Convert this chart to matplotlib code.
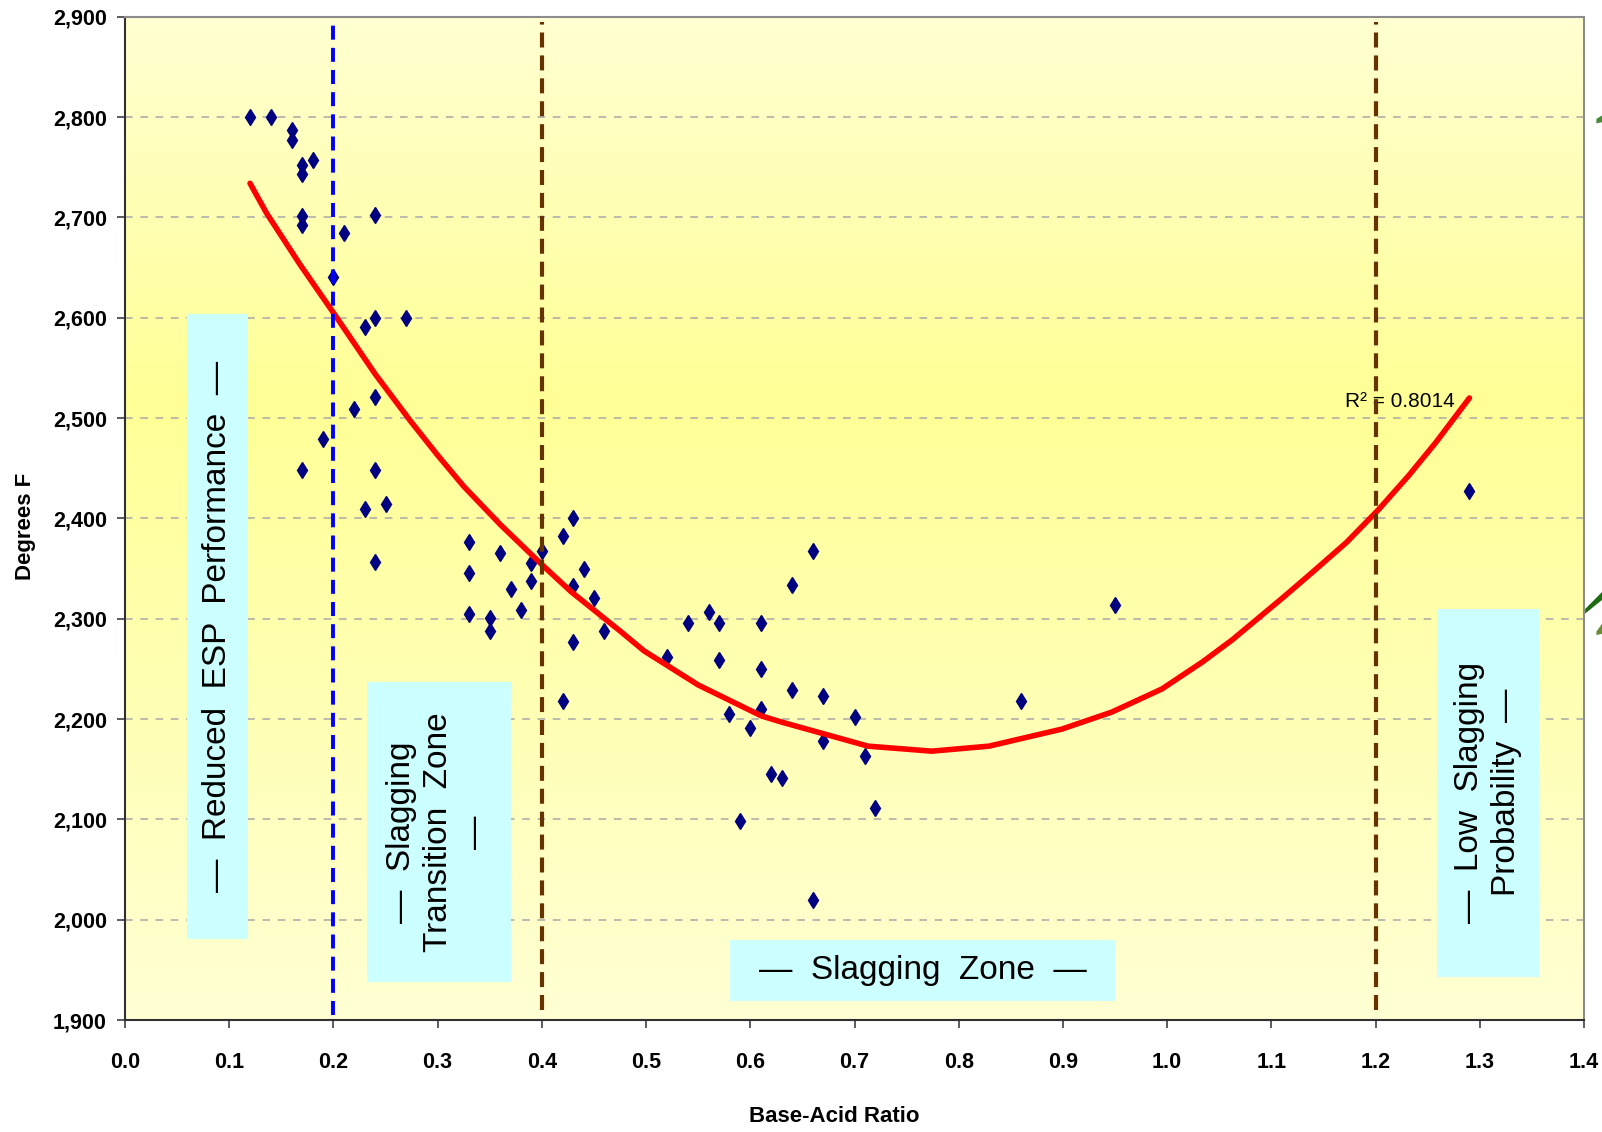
import numpy as np
import matplotlib
matplotlib.use("Agg")
import matplotlib.pyplot as plt
from matplotlib.patches import Rectangle, Polygon
from matplotlib.ticker import FuncFormatter, MultipleLocator

# scatter data (base-acid ratio vs ash fusion temperature)
ratio = [0.12, 0.14, 0.16, 0.16, 0.17, 0.17, 0.18, 0.17, 0.17, 0.24, 0.21, 0.20,
         0.23, 0.24, 0.27, 0.24, 0.22, 0.19, 0.17, 0.24, 0.23, 0.25, 0.24,
         0.33, 0.33, 0.33, 0.36, 0.35, 0.35, 0.37, 0.38, 0.39, 0.39, 0.40,
         0.42, 0.43, 0.44, 0.43, 0.45, 0.46, 0.43, 0.42,
         0.52, 0.54, 0.56, 0.57, 0.57, 0.61, 0.61, 0.61, 0.58, 0.60, 0.62,
         0.63, 0.59, 0.64, 0.66, 0.64, 0.67, 0.67, 0.70, 0.71, 0.72, 0.66,
         0.86, 0.95, 1.29]
temp_f = [2800, 2800, 2787, 2777, 2752, 2743, 2757, 2701, 2692, 2702, 2684, 2641,
          2591, 2600, 2600, 2521, 2509, 2479, 2448, 2448, 2409, 2414, 2357,
          2376, 2346, 2305, 2366, 2301, 2288, 2330, 2309, 2356, 2338, 2368,
          2382, 2400, 2350, 2333, 2321, 2288, 2277, 2218,
          2262, 2296, 2307, 2296, 2259, 2296, 2250, 2210, 2205, 2191, 2145,
          2141, 2098, 2334, 2368, 2229, 2223, 2178, 2202, 2163, 2111, 2020,
          2218, 2314, 2427]

# trendline as drawn in the chart
trend_x = [0.12, 0.136, 0.168, 0.20, 0.24, 0.274, 0.30, 0.325, 0.36, 0.40, 0.428,
           0.476, 0.498, 0.55, 0.611, 0.63, 0.713, 0.774, 0.829, 0.899, 0.947,
           0.995, 1.034, 1.0625, 1.111, 1.139, 1.172, 1.203, 1.232, 1.258, 1.29]
trend_y = [2734, 2704, 2653, 2605, 2544, 2497, 2463, 2432, 2394, 2354, 2327,
           2287, 2268, 2234, 2203, 2197, 2173, 2168, 2173, 2190, 2207,
           2230, 2257, 2279, 2321, 2346, 2376, 2409, 2443, 2476, 2520]
r_squared = 0.8014

# zone boundaries
esp_limit = 0.2
zone_limits = [0.4, 1.2]

zone_labels = ["\u2014  Reduced  ESP  Performance  \u2014",
               "\u2014  Slagging\nTransition  Zone\n\u2014",
               "\u2014  Slagging  Zone  \u2014",
               "\u2014  Low  Slagging\nProbability  \u2014"]

# label boxes: (x0, x1, y0, y1, rotation)
boxes = [(0.060, 0.118, 1981, 2604, 90),
         (0.232, 0.370, 1938, 2237, 90),
         (0.581, 0.950, 1919, 1980, 0),
         (1.259, 1.357, 1943, 2310, 90)]

arial = ['Liberation Sans', 'DejaVu Sans']

fig = plt.figure(figsize=(16.02, 11.32), dpi=100)
ax = fig.add_axes([0.078, 0.0989, 0.9108, 0.8863])
ax.set_xlim(0, 1.4)
ax.set_ylim(1900, 2900)

# yellow gradient background
stops = [0.0, 0.62, 1.0]
blue_ch = [212, 150, 210]
rows = np.linspace(0, 1, 256)
grad = np.ones((256, 1, 3))
grad[:, 0, 2] = np.interp(rows, stops, blue_ch) / 255.0
ax.imshow(grad, extent=[0, 1.4, 1900, 2900], origin='lower', aspect='auto', zorder=0)

# gridlines
for yv in range(2000, 2900, 100):
    ax.axhline(yv, color='#A8A8A8', lw=1.1, dashes=(5, 5), zorder=1)

# cyan label boxes
for (x0, x1, y0, y1, rot), label in zip(boxes, zone_labels):
    ax.add_patch(Rectangle((x0, y0), x1 - x0, y1 - y0, facecolor='#CCFFFF',
                           edgecolor='none', zorder=2))
    ax.text((x0 + x1) / 2, (y0 + y1) / 2, label, rotation=rot, ha='center',
            va='center', multialignment='center', fontsize=24, family=arial,
            linespacing=1.25, zorder=3)

# data points and trendline
ax.plot(ratio, temp_f, linestyle='none', marker='d', ms=8, color='#000080', zorder=4)
ax.plot(trend_x, trend_y, color='#FF0000', lw=4, solid_capstyle='round',
        solid_joinstyle='round', zorder=5)
ax.text(1.171, 2511, "R\u00b2 = %.4f" % r_squared, fontsize=15, family=arial,
        ha='left', va='baseline', zorder=6)

# zone divider lines
ax.axvline(esp_limit, ymin=0.005, ymax=0.995, color='#0000FF', lw=2.8,
           dashes=(3.6, 2.1), zorder=7)
for xv in zone_limits:
    ax.axvline(xv, ymin=0.01, ymax=0.995, color='#663300', lw=3.0,
               dashes=(3.6, 1.9), zorder=7)

# axes styling
ax.xaxis.set_major_locator(MultipleLocator(0.1))
ax.yaxis.set_major_locator(MultipleLocator(100))
ax.xaxis.set_major_formatter(FuncFormatter(lambda v, p: "%.1f" % v))
ax.yaxis.set_major_formatter(FuncFormatter(lambda v, p: "{:,.0f}".format(v)))
ax.tick_params(axis='x', direction='out', length=6, width=1.2, color='#404040', pad=17)
ax.tick_params(axis='y', direction='out', length=6, width=1.2, color='#404040', pad=7)
for lab in ax.get_xticklabels() + ax.get_yticklabels():
    lab.set_fontfamily(arial)
    lab.set_fontweight('bold')
    lab.set_fontsize(15.5)
for side in ['left', 'bottom']:
    ax.spines[side].set_color('#303030')
    ax.spines[side].set_linewidth(1.5)
for side in ['top', 'right']:
    ax.spines[side].set_color('#8C8C8C')
    ax.spines[side].set_linewidth(1.5)

fig.text(0.5205, 0.014, "Base-Acid Ratio", ha='center', va='center', fontsize=16,
         fontweight='bold', family=arial)
fig.text(0.016, 0.535, "Degrees F", rotation=90, ha='center', va='center',
         fontsize=16, fontweight='bold', family=arial)

# bits of green clip art peeking in at the right edge
fig.patches.append(Polygon([[0.9965, 0.895], [1.0, 0.898], [1.0, 0.892], [0.9965, 0.891]],
                           closed=True, transform=fig.transFigure, facecolor='#4A8A3A',
                           edgecolor='none'))
fig.patches.append(Polygon([[0.9895, 0.462], [1.0, 0.477], [1.0, 0.470], [0.9895, 0.458]],
                           closed=True, transform=fig.transFigure, facecolor='#1E6B12',
                           edgecolor='none'))
fig.patches.append(Polygon([[0.9965, 0.442], [1.0, 0.449], [1.0, 0.440], [0.9965, 0.439]],
                           closed=True, transform=fig.transFigure, facecolor='#6B8A3A',
                           edgecolor='none'))

fig.savefig("out.png", dpi=100, facecolor='white')
